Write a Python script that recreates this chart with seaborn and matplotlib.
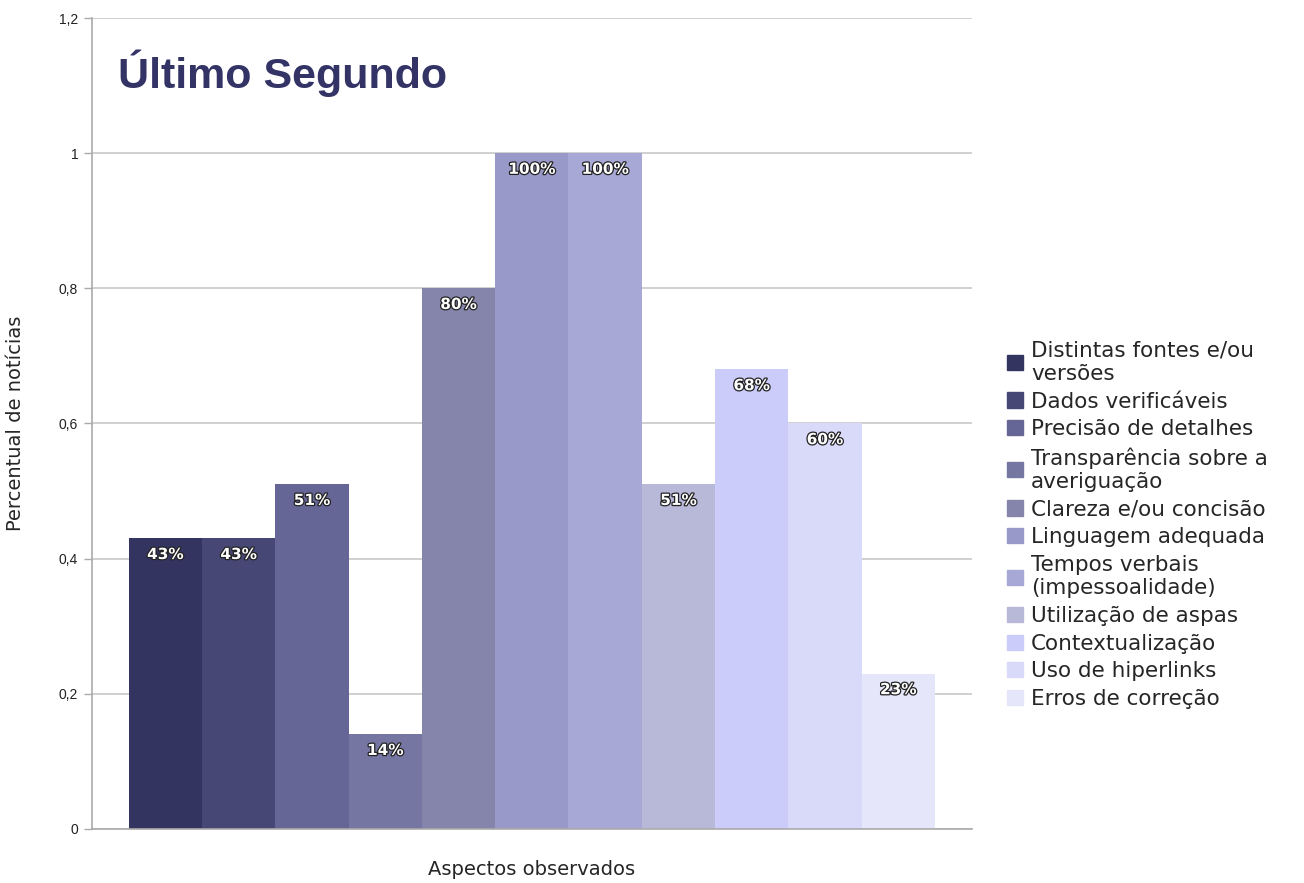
import matplotlib
matplotlib.use("Agg")
import matplotlib.pyplot as plt
import matplotlib.patheffects as pe
import seaborn as sns
import pandas as pd

# %%
aspectos = ["Distintas fontes e/ou\nversões", "Dados verificáveis", "Precisão de detalhes",
            "Transparência sobre a\naveriguação", "Clareza e/ou concisão", "Linguagem adequada",
            "Tempos verbais\n(impessoalidade)", "Utilização de aspas", "Contextualização",
            "Uso de hiperlinks", "Erros de correção"]
percentual = [0.43, 0.43, 0.51, 0.14, 0.80, 1.00, 1.00, 0.51, 0.68, 0.60, 0.23]
rotulos = ["43%", "43%", "51%", "14%", "80%", "100%", "100%", "51%", "68%", "60%", "23%"]
cores = ["#343461", "#474775", "#666696", "#7676A3", "#8585AB", "#9999C9",
         "#A7A8D5", "#B8B8D8", "#CCCCFA", "#D9D9FA", "#E6E6FA"]
yticks = [0, 0.2, 0.4, 0.6, 0.8, 1.0, 1.2]
ytick_labels = ["0", "0,2", "0,4", "0,6", "0,8", "1", "1,2"]

df = pd.DataFrame({"aspecto": aspectos, "perc": percentual})

sns.set_style("white")
plt.rcParams['font.family'] = ['DejaVu Sans']

fig = plt.figure(figsize=(13.04, 8.83), dpi=100)
ax = fig.add_axes([0.0706, 0.0612, 0.6745, 0.9184])

sns.barplot(data=df, x="aspecto", y="perc", hue="aspecto", palette=cores,
            saturation=1, width=1, dodge=False, legend=False, linewidth=0,
            ax=ax, zorder=2)

for cont, lab in zip(ax.containers, rotulos):
    ax.bar_label(cont, labels=[lab], padding=-17, color="white", fontsize=11,
                 fontweight="bold", zorder=4,
                 path_effects=[pe.withStroke(linewidth=1.8, foreground="#222222")])

ax.set_ylim(0, 1.2)
ax.set_xlim(-1.0, 11.0)
ax.set_yticks(yticks)
ax.set_yticklabels(ytick_labels, fontsize=10, color="#222222", family="Liberation Sans")
ax.set_xticks([])
ax.yaxis.grid(True, color="#c8c8c8", linewidth=1.2, zorder=0)
ax.set_axisbelow(True)
ax.tick_params(axis="y", left=True, length=6, color="#aaaaaa", width=1, pad=4)
for s in ["top", "right"]:
    ax.spines[s].set_visible(False)
for s in ["left", "bottom"]:
    ax.spines[s].set_color("#aaaaaa")
    ax.spines[s].set_linewidth(1.2)

ax.set_ylabel("Percentual de notícias", fontsize=14, labelpad=24)
ax.set_xlabel("Aspectos observados", fontsize=14, labelpad=22)

ax.text(0.03, 0.932, "Último Segundo", transform=ax.transAxes, fontsize=31,
        fontweight="bold", color="#333366", family="Liberation Sans", va="center", ha="left")

handles = [plt.Rectangle((0, 0), 1, 1, color=c) for c in cores]
fig.legend(handles, aspectos, loc="upper left", bbox_to_anchor=(0.766, 0.624),
           frameon=False, fontsize=15.5, handlelength=0.7, handleheight=0.7,
           handletextpad=0.4, labelspacing=0.36, borderaxespad=0)

fig.savefig("out.png", dpi=100, facecolor="white")
